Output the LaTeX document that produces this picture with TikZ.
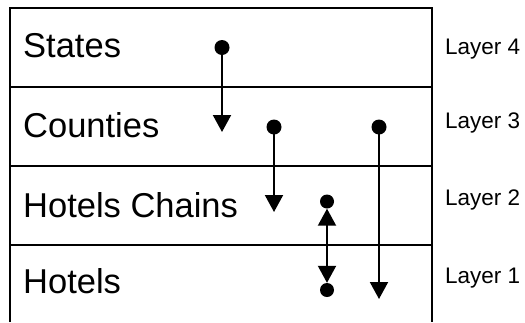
\documentclass[tikz,border=0pt]{standalone}
\usepackage{fontspec}
\setmainfont{Liberation Sans}
\usetikzlibrary{arrows.meta}
\begin{document}
\begin{tikzpicture}[x=1pt,y=-1pt,
  frame/.style={line width=1.6pt},
  bigtext/.style={anchor=base west,inner sep=0pt,font=\fontsize{34.5}{40}\selectfont},
  laytext/.style={anchor=base west,inner sep=0pt,font=\fontsize{22.5}{26}\selectfont},
  dot/.style={circle,fill=black,inner sep=0pt,minimum size=15pt},
  link/.style={line width=2pt,-{Triangle[width=18pt,length=17pt]}},
  dlink/.style={line width=2pt,{Triangle[width=18pt,length=17pt]}-{Triangle[width=18pt,length=17pt]}}]
\useasboundingbox (0,0) rectangle (525,322);
% frame
\draw[frame] (10,322) -- (10,8) -- (432,8) -- (432,322);
\draw[frame] (10,87) -- (432,87);
\draw[frame] (10,166) -- (432,166);
\draw[frame] (10,245) -- (432,245);
% labels
\node[bigtext] (states) at (23,57) {States};
\node[bigtext] (counties) at (23,137) {Counties};
\node[bigtext] (chains) at (23,217) {Hotels Chains};
\node[bigtext] (hotels) at (23,293) {Hotels};
\node[laytext] (l4) at (445,54) {Layer 4};
\node[laytext] (l3) at (445,128) {Layer 3};
\node[laytext] (l2) at (445,205) {Layer 2};
\node[laytext] (l1) at (445,283) {Layer 1};
% dots and tips
\node[dot] (d1) at (222,47.5) {};
\coordinate (t1) at (222,132);
\node[dot] (d2) at (274,127) {};
\coordinate (t2) at (274,212);
\node[dot] (d3) at (379,127) {};
\coordinate (t3) at (379,299);
\node[dot,minimum size=14pt] (d4) at (327,201.5) {};
\node[dot,minimum size=14pt] (d5) at (327,290) {};
% connectors
\draw[link] (d1.center) -- (t1);
\draw[link] (d2.center) -- (t2);
\draw[link] (d3.center) -- (t3);
\draw[dlink] (d4) -- (d5);
\end{tikzpicture}
\end{document}
